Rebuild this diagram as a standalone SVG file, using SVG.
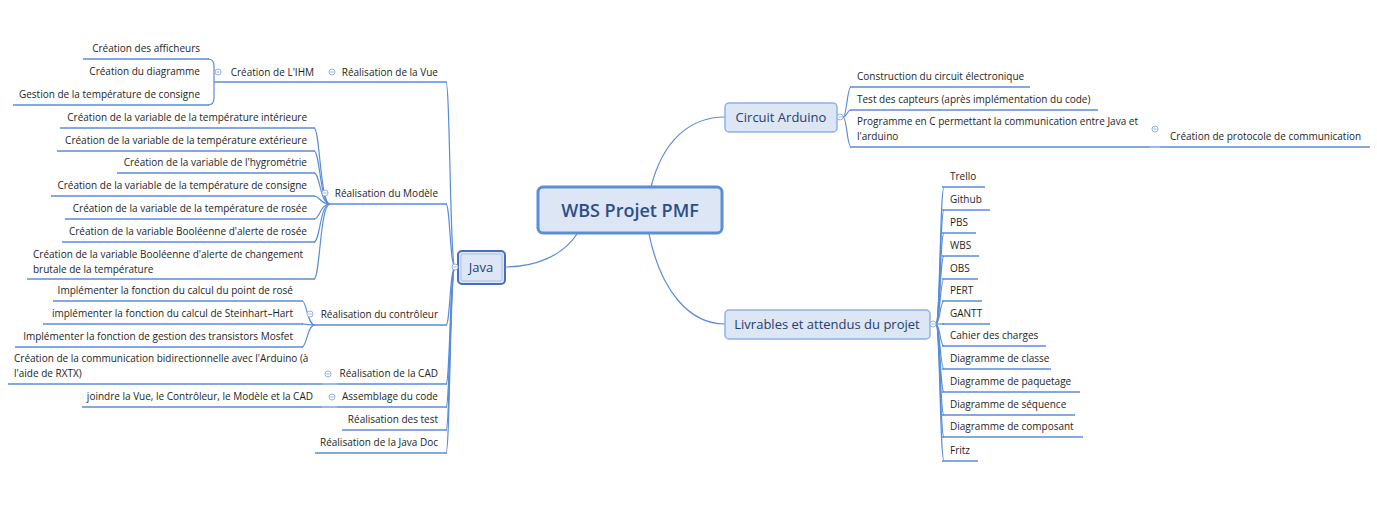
<svg xmlns="http://www.w3.org/2000/svg" width="1377" height="519" viewBox="0 0 1377 519">
<style>
text{font-family:"Open Sans","DejaVu Sans",sans-serif;font-size:10px;fill:#1e1e1e}
.e{text-anchor:end}
.m{text-anchor:middle}
.ul{stroke:#5b8cd9;stroke-width:1.4;fill:none}
.c{stroke:#5b8cd9;stroke-width:1.2;fill:none}
.box{fill:#dce6f4;stroke:#8fb1e3;stroke-width:1.5}
.big{font-size:13px;fill:#24406e}
.ic{fill:#fff;stroke:#97b0d8;stroke-width:1}
.icm{stroke:#97b0d8;stroke-width:1}
</style>
<defs>
<g id="icon"><circle class="ic" cx="0" cy="0" r="3"/><line class="icm" x1="-1.6" y1="0" x2="1.6" y2="0"/></g>
</defs>
<rect width="1377" height="519" fill="#fff"/>
<g id="connectors">
<path class="c" d="M577,234 C562,257 533,267 505,267"/>
<path class="c" d="M651,187 C663,140 690,117 725,117"/>
<path class="c" d="M649,234 C661,292 690,324 725,324"/>
<path class="c" d="M455,267 C450,267 450,82 446,82"/>
<path class="c" d="M455,267 C450,267 450,204 446,204"/>
<path class="c" d="M455,267 C450,267 450,325 446,325"/>
<path class="c" d="M455,267 C450,267 450,384 446,384"/>
<path class="c" d="M455,267 C450,267 450,407 446,407"/>
<path class="c" d="M455,267 C450,267 450,430 446,430"/>
<path class="c" d="M455,267 C450,267 450,453 446,453"/>
<path class="c" d="M214,82 L214,66 Q214,59 208,59"/>
<path class="c" d="M214,82 L214,98 Q214,105 208,105"/>
<path class="c" d="M330,204 C320,204 320,128 314,128"/>
<path class="c" d="M330,204 C320,204 320,151 314,151"/>
<path class="c" d="M330,204 C320,204 320,173 314,173"/>
<path class="c" d="M330,204 C320,204 320,196 314,196"/>
<path class="c" d="M330,204 C320,204 320,219 314,219"/>
<path class="c" d="M330,204 C320,204 320,242 314,242"/>
<path class="c" d="M330,204 C320,204 320,279 314,279"/>
<path class="c" d="M315,325 C307,325 307,301 302,301"/>
<path class="c" d="M315,325 C307,325 307,324 302,324"/>
<path class="c" d="M315,325 C307,325 307,347 302,347"/>
<path class="c" d="M322,384 L337,384"/>
<path class="c" d="M322,407 L337,407"/>
<path class="c" d="M843,117 C847,117 847,87 851,87"/>
<path class="c" d="M843,117 C847,117 847,110 851,110"/>
<path class="c" d="M843,117 C847,117 847,147 851,147"/>
<path class="c" d="M1150,147 L1160,147"/>
<path class="c" d="M936,324 C940,324 940,187 944,187"/>
<path class="c" d="M936,324 C940,324 940,210 944,210"/>
<path class="c" d="M936,324 C940,324 940,233 944,233"/>
<path class="c" d="M936,324 C940,324 940,256 944,256"/>
<path class="c" d="M936,324 C940,324 940,279 944,279"/>
<path class="c" d="M936,324 C940,324 940,301 944,301"/>
<path class="c" d="M936,324 C940,324 940,324 944,324"/>
<path class="c" d="M936,324 C940,324 940,346 944,346"/>
<path class="c" d="M936,324 C940,324 940,369 944,369"/>
<path class="c" d="M936,324 C940,324 940,392 944,392"/>
<path class="c" d="M936,324 C940,324 940,415 944,415"/>
<path class="c" d="M936,324 C940,324 940,437 944,437"/>
<path class="c" d="M936,324 C940,324 940,461 944,461"/>
</g>

<g id="central">
<rect x="538" y="187" width="184" height="46" rx="5" fill="#dce6f4" stroke="#5b8ed7" stroke-width="3"/>
<text x="630" y="217" class="m" style="font-size:18px;font-weight:600;fill:#2d4f86">WBS Projet PMF</text>
</g>

<g id="java">
<rect x="458" y="251" width="47" height="33" rx="4" fill="#dce6f4" stroke="#4a6eb8" stroke-width="2"/>
<rect x="461" y="254" width="41" height="27" rx="2" fill="none" stroke="#a9c1e8" stroke-width="1"/>
<text x="481" y="272" class="m big">Java</text>
<use href="#icon" x="455" y="267"/>
</g>

<g id="circuit">
<rect x="725" y="103" width="112" height="29" rx="4" class="box"/>
<text x="781" y="122" class="m big">Circuit Arduino</text>
<use href="#icon" x="840" y="117"/>
</g>

<g id="livrables">
<rect x="725" y="310" width="205" height="29" rx="4" class="box"/>
<text x="827" y="329" class="m big">Livrables et attendus du projet</text>
<use href="#icon" x="933" y="324"/>
</g>

<g id="vue">
<line class="ul" x1="335" y1="82" x2="447" y2="82"/>
<text x="438" y="76" class="e">Réalisation de la Vue</text>
<use href="#icon" x="332" y="72"/>
</g>
<g id="ihm">
<line class="ul" x1="214" y1="82" x2="335" y2="82"/>
<text x="314" y="76" class="e">Création de L'IHM</text>
<use href="#icon" x="218" y="72"/>
</g>
<g id="afficheurs">
<line class="ul" x1="83" y1="59" x2="209" y2="59"/>
<text x="200" y="52" class="e">Création des afficheurs</text>
</g>
<g id="diagramme">
<text x="200" y="75" class="e">Création du diagramme</text>
</g>
<g id="consigne-ihm">
<line class="ul" x1="13" y1="105" x2="209" y2="105"/>
<text x="200" y="98" class="e">Gestion de la température de consigne</text>
</g>

<g id="modele">
<line class="ul" x1="330" y1="204" x2="447" y2="204"/>
<text x="438" y="197" class="e">Réalisation du Modèle</text>
<use href="#icon" x="325" y="193"/>
</g>
<g id="m1"><line class="ul" x1="60" y1="128" x2="315" y2="128"/><text x="307" y="121" class="e">Création de la variable de la température intérieure</text></g>
<g id="m2"><line class="ul" x1="57" y1="151" x2="315" y2="151"/><text x="307" y="144" class="e">Création de la variable de la température extérieure</text></g>
<g id="m3"><line class="ul" x1="117" y1="173" x2="315" y2="173"/><text x="307" y="166" class="e">Création de la variable de l'hygrométrie</text></g>
<g id="m4"><line class="ul" x1="51" y1="196" x2="315" y2="196"/><text x="307" y="189" class="e">Création de la variable de la température de consigne</text></g>
<g id="m5"><line class="ul" x1="65" y1="219" x2="315" y2="219"/><text x="307" y="212" class="e">Création de la variable de la température de rosée</text></g>
<g id="m6"><line class="ul" x1="62" y1="242" x2="315" y2="242"/><text x="307" y="235" class="e">Création de la variable Booléenne d'alerte de rosée</text></g>
<g id="m7"><line class="ul" x1="27" y1="279" x2="315" y2="279"/><text x="33" y="258">Création de la variable Booléenne d'alerte de changement</text><text x="33" y="273">brutale de la température</text></g>

<g id="controleur">
<line class="ul" x1="315" y1="325" x2="447" y2="325"/>
<text x="438" y="318" class="e">Réalisation du contrôleur</text>
<use href="#icon" x="310" y="314"/>
</g>
<g id="c1"><line class="ul" x1="53" y1="301" x2="303" y2="301"/><text x="293" y="294" class="e">Implémenter la fonction du calcul du point de rosé</text></g>
<g id="c2"><line class="ul" x1="43" y1="324" x2="303" y2="324"/><text x="293" y="317" class="e">implémenter la fonction du calcul de Steinhart–Hart</text></g>
<g id="c3"><line class="ul" x1="15" y1="347" x2="303" y2="347"/><text x="293" y="340" class="e">Implémenter la fonction de gestion des transistors Mosfet</text></g>

<g id="cad">
<line class="ul" x1="337" y1="384" x2="447" y2="384"/>
<text x="438" y="377" class="e">Réalisation de la CAD</text>
<use href="#icon" x="328" y="374"/>
</g>
<g id="cad1"><line class="ul" x1="8" y1="384" x2="322" y2="384"/><text x="14" y="362">Création de la communication bidirectionnelle avec l'Arduino (à</text><text x="14" y="377">l'aide de RXTX)</text></g>

<g id="assemblage">
<line class="ul" x1="337" y1="407" x2="447" y2="407"/>
<text x="438" y="400" class="e">Assemblage du code</text>
<use href="#icon" x="332" y="397"/>
</g>
<g id="as1"><line class="ul" x1="82" y1="407" x2="322" y2="407"/><text x="313" y="400" class="e">joindre la Vue, le Contrôleur, le Modèle et la CAD</text></g>

<g id="test"><line class="ul" x1="342" y1="430" x2="447" y2="430"/><text x="438" y="423" class="e">Réalisation des test</text></g>
<g id="javadoc"><line class="ul" x1="315" y1="453" x2="447" y2="453"/><text x="438" y="446" class="e">Réalisation de la Java Doc</text></g>

<g id="a1"><line class="ul" x1="850" y1="87" x2="1030" y2="87"/><text x="857" y="80">Construction du circuit électronique</text></g>
<g id="a2"><line class="ul" x1="850" y1="110" x2="1098" y2="110"/><text x="857" y="103">Test des capteurs (après implémentation du code)</text></g>
<g id="a3"><line class="ul" x1="850" y1="147" x2="1150" y2="147"/><text x="857" y="125">Programme en C permettant la communication entre Java et</text><text x="857" y="140">l'arduino</text><use href="#icon" x="1155" y="129"/></g>
<g id="a31"><line class="ul" x1="1160" y1="147" x2="1370" y2="147"/><text x="1170" y="140">Création de protocole de communication</text></g>

<g id="l1"><line class="ul" x1="942" y1="187" x2="985" y2="187"/><text x="950" y="180">Trello</text></g>
<g id="l2"><line class="ul" x1="942" y1="210" x2="990" y2="210"/><text x="950" y="203">Github</text></g>
<g id="l3"><line class="ul" x1="942" y1="233" x2="976" y2="233"/><text x="950" y="226">PBS</text></g>
<g id="l4"><line class="ul" x1="942" y1="256" x2="979" y2="256"/><text x="950" y="249">WBS</text></g>
<g id="l5"><line class="ul" x1="942" y1="279" x2="978" y2="279"/><text x="950" y="272">OBS</text></g>
<g id="l6"><line class="ul" x1="942" y1="301" x2="982" y2="301"/><text x="950" y="294">PERT</text></g>
<g id="l7"><line class="ul" x1="942" y1="324" x2="990" y2="324"/><text x="950" y="317">GANTT</text></g>
<g id="l8"><line class="ul" x1="942" y1="346" x2="1046" y2="346"/><text x="950" y="339">Cahier des charges</text></g>
<g id="l9"><line class="ul" x1="942" y1="369" x2="1051" y2="369"/><text x="950" y="362">Diagramme de classe</text></g>
<g id="l10"><line class="ul" x1="942" y1="392" x2="1080" y2="392"/><text x="950" y="385">Diagramme de paquetage</text></g>
<g id="l11"><line class="ul" x1="942" y1="415" x2="1075" y2="415"/><text x="950" y="408">Diagramme de séquence</text></g>
<g id="l12"><line class="ul" x1="942" y1="437" x2="1083" y2="437"/><text x="950" y="430">Diagramme de composant</text></g>
<g id="l13"><line class="ul" x1="942" y1="461" x2="978" y2="461"/><text x="950" y="454">Fritz</text></g>
</svg>
